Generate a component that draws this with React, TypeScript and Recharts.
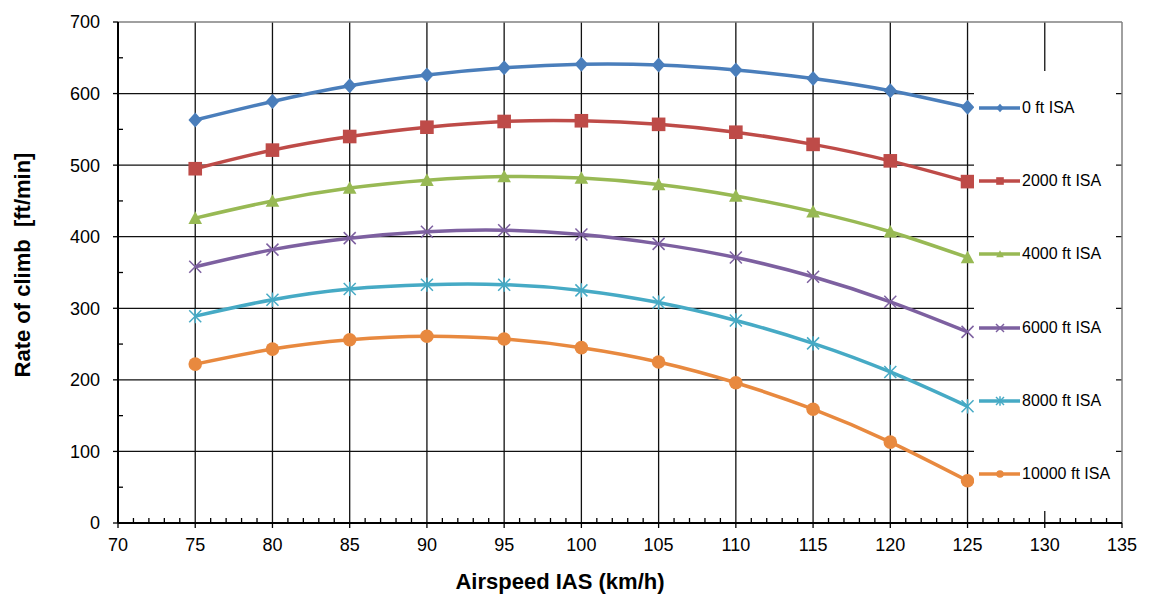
import { LineChart, Line, XAxis, YAxis, CartesianGrid, ReferenceLine } from 'recharts';

// Airspeed IAS (km/h)
const speeds = [75, 80, 85, 90, 95, 100, 105, 110, 115, 120, 125];

// rate of climb [ft/min] per pressure altitude
const isa0 = [563, 589, 611, 626, 636, 641, 640, 633, 621, 604, 581];
const isa2000 = [495, 521, 540, 553, 561, 562, 557, 546, 529, 506, 477];
const isa4000 = [426, 450, 468, 479, 484, 482, 473, 457, 435, 407, 371];
const isa6000 = [358, 382, 398, 407, 409, 403, 390, 371, 344, 309, 267];
const isa8000 = [289, 312, 327, 333, 333, 325, 308, 283, 251, 211, 163];
const isa10000 = [222, 243, 256, 261, 257, 245, 225, 196, 159, 113, 59];

const seriesNames = ['0 ft ISA', '2000 ft ISA', '4000 ft ISA', '6000 ft ISA', '8000 ft ISA', '10000 ft ISA'];
const seriesKeys = ['a0', 'a2000', 'a4000', 'a6000', 'a8000', 'a10000'];
const seriesColors = ['#4A7EBB', '#BE4B48', '#98B954', '#7D60A0', '#46AAC5', '#E8893F'];
const seriesMarkers = ['diamond', 'square', 'triangle', 'x', 'star', 'circle'];

const xTicks = Array.from({ length: 66 }, (_, i) => 70 + i);
const yTicks = Array.from({ length: 15 }, (_, i) => i * 50);
const xGrid = [75, 80, 85, 90, 95, 100, 105, 110, 115, 120, 125, 130];
const yGrid = [100, 200, 300, 400, 500, 600];

const data = speeds.map((s, i) => ({
  ias: s,
  a0: isa0[i],
  a2000: isa2000[i],
  a4000: isa4000[i],
  a6000: isa6000[i],
  a8000: isa8000[i],
  a10000: isa10000[i],
}));

const FONT = '"Liberation Sans", Arial, sans-serif';

function Marker({ kind, cx, cy, color, s }: { kind: string; cx: number; cy: number; color: string; s: number }) {
  switch (kind) {
    case 'diamond':
      return <polygon points={`${cx},${cy - s * 1.1} ${cx + s},${cy} ${cx},${cy + s * 1.1} ${cx - s},${cy}`} fill={color} />;
    case 'square':
      return <rect x={cx - s} y={cy - s} width={s * 2} height={s * 2} fill={color} />;
    case 'triangle':
      return <polygon points={`${cx},${cy - s} ${cx + s},${cy + s * 0.85} ${cx - s},${cy + s * 0.85}`} fill={color} />;
    case 'x':
      return (
        <g stroke={color} strokeWidth={1.5}>
          <line x1={cx - s} y1={cy - s} x2={cx + s} y2={cy + s} />
          <line x1={cx - s} y1={cy + s} x2={cx + s} y2={cy - s} />
        </g>
      );
    case 'star':
      return (
        <g stroke={color} strokeWidth={1.5}>
          <line x1={cx - s} y1={cy - s} x2={cx + s} y2={cy + s} />
          <line x1={cx - s} y1={cy + s} x2={cx + s} y2={cy - s} />
          <line x1={cx} y1={cy - s * 1.2} x2={cx} y2={cy + s * 1.2} />
        </g>
      );
    default:
      return <circle cx={cx} cy={cy} r={s} fill={color} />;
  }
}

function makeDot(kind: string, color: string) {
  return (props: any) => {
    const { cx, cy, index } = props;
    if (cx == null || cy == null) return <g key={index} />;
    return <Marker key={index} kind={kind} cx={cx} cy={cy} color={color} s={kind === 'x' || kind === 'star' ? 6 : 6.8} />;
  };
}

function XTick(props: any) {
  const { x, y, payload } = props;
  const v = payload.value;
  const major = v % 5 === 0;
  return (
    <g>
      {major ? (
        <line x1={x} x2={x} y1={y} y2={y + 5} stroke="#000" strokeWidth={1.3} />
      ) : (
        <line x1={x} x2={x} y1={y - 5} y2={y} stroke="#000" strokeWidth={1.3} />
      )}
      {major && (
        <text x={x} y={y + 15} dy="0.71em" textAnchor="middle" fontSize={18} fill="#000" fontFamily={FONT}>
          {v}
        </text>
      )}
    </g>
  );
}

function YTick(props: any) {
  const { x, y, payload } = props;
  const v = payload.value;
  const major = v % 100 === 0;
  return (
    <g>
      {major ? (
        <line x1={x - 5} x2={x} y1={y} y2={y} stroke="#000" strokeWidth={1.3} />
      ) : (
        <line x1={x} x2={x + 5} y1={y} y2={y} stroke="#000" strokeWidth={1.3} />
      )}
      {major && (
        <text x={x - 18} y={y} dy="0.355em" textAnchor="end" fontSize={18} fill="#000" fontFamily={FONT}>
          {v}
        </text>
      )}
    </g>
  );
}

export default function App() {
  return (
    <div style={{ position: 'absolute', left: 0, top: 0, width: 1154, height: 597, background: '#fff', fontFamily: FONT }}>
      <LineChart width={1154} height={597} data={data} margin={{ top: 22, right: 32, left: 58, bottom: 34 }}>
        <CartesianGrid stroke="#111" strokeWidth={1.3} horizontalValues={yGrid} verticalValues={xGrid} />
        <XAxis
          dataKey="ias"
          type="number"
          domain={[70, 135]}
          ticks={xTicks}
          interval={0}
          height={40}
          tickSize={0}
          tickMargin={0}
          tickLine={false}
          axisLine={{ stroke: '#000', strokeWidth: 2 }}
          tick={<XTick />}
        />
        <YAxis
          type="number"
          domain={[0, 700]}
          ticks={yTicks}
          interval={0}
          width={60}
          tickSize={0}
          tickMargin={0}
          tickLine={false}
          axisLine={{ stroke: '#000', strokeWidth: 2 }}
          tick={<YTick />}
        />
        <ReferenceLine y={700} stroke="#808080" strokeWidth={1.5} />
        <ReferenceLine x={135} stroke="#808080" strokeWidth={1.5} />
        {seriesKeys.map((k, i) => (
          <Line
            key={k}
            dataKey={k}
            name={seriesNames[i]}
            type="natural"
            stroke={seriesColors[i]}
            strokeWidth={3.5}
            dot={makeDot(seriesMarkers[i], seriesColors[i])}
            activeDot={false}
            isAnimationActive={false}
          />
        ))}
      </LineChart>

      {/* legend box sits over the plot area, like the original */}
      <div style={{ position: 'absolute', left: 974, top: 71, width: 142, height: 440, background: '#fff' }}>
        {seriesNames.map((n, i) => (
          <div key={n} style={{ height: 73.3, display: 'flex', alignItems: 'center' }}>
            <svg width={48} height={16} style={{ display: 'block' }}>
              <line x1={5} x2={46} y1={8} y2={8} stroke={seriesColors[i]} strokeWidth={3.5} />
              <Marker kind={seriesMarkers[i]} cx={26} cy={8} color={seriesColors[i]} s={seriesMarkers[i] === 'x' || seriesMarkers[i] === 'star' ? 4 : 3.8} />
            </svg>
            <span style={{ fontSize: 16, color: '#000', whiteSpace: 'nowrap' }}>{n}</span>
          </div>
        ))}
      </div>

      <div
        style={{
          position: 'absolute',
          left: 23,
          top: 265,
          transform: 'translate(-50%, -50%) rotate(-90deg)',
          fontSize: 22,
          fontWeight: 'bold',
          whiteSpace: 'pre',
        }}
      >
        {'Rate of climb  [ft/min]'}
      </div>
      <div
        style={{
          position: 'absolute',
          left: 560,
          top: 582,
          transform: 'translate(-50%, -50%)',
          fontSize: 22,
          fontWeight: 'bold',
          whiteSpace: 'nowrap',
        }}
      >
        Airspeed IAS (km/h)
      </div>
    </div>
  );
}
